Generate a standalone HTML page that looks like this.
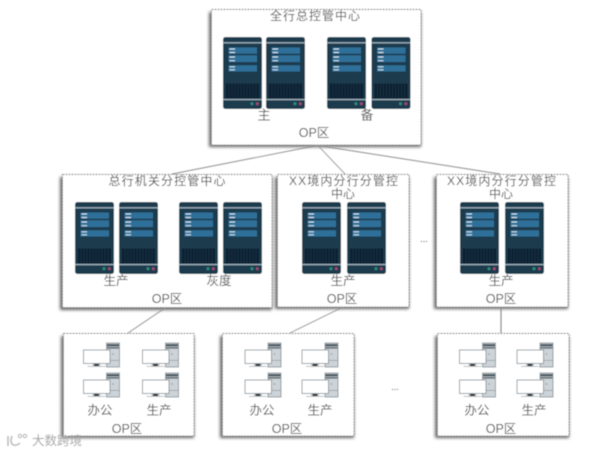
<!DOCTYPE html>
<html><head><meta charset="utf-8">
<style>
html,body{margin:0;padding:0;background:#fff}
svg{display:block}
text{font-family:"Liberation Sans","Noto Sans CJK SC",sans-serif;fill:#505050;font-size:12px;text-anchor:middle;dominant-baseline:central}
</style></head><body>
<svg width="605" height="454" viewBox="0 0 605 454" xmlns="http://www.w3.org/2000/svg">
<defs>
<filter id="sh" x="-10%" y="-10%" width="120%" height="120%"><feGaussianBlur stdDeviation="1.6"/></filter>
<filter id="soft" x="-5%" y="-5%" width="110%" height="110%"><feGaussianBlur stdDeviation="0.5"/></filter>
<g id="srv">
<rect width="39" height="72" rx="2.5" fill="#1d3a4e"/>
<rect y="5.2" width="39" height="1.2" fill="#a5b6bf"/>
<rect x="5.5" y="10.5" width="28.5" height="6.2" fill="#2f7099"/>
<rect x="5.5" y="18.3" width="28.5" height="6.8" fill="#2f7099"/>
<rect x="5.5" y="28.3" width="28.5" height="6.2" fill="#2f7099"/>
<rect x="6.5" y="11.5" width="5.5" height="1" fill="#dbe8ef"/><rect x="6.5" y="15" width="5.5" height="1" fill="#dbe8ef"/>
<rect x="6.5" y="19.5" width="5.5" height="1" fill="#dbe8ef"/><rect x="6.5" y="23.2" width="5.5" height="1" fill="#dbe8ef"/>
<rect x="6.5" y="29.3" width="5.5" height="1" fill="#dbe8ef"/><rect x="6.5" y="32.3" width="5.5" height="1" fill="#dbe8ef"/>
<rect x="2.7" y="46.5" width="33.5" height="15" fill="#0d2433"/>
<path d="M6 46.5v15M9 46.5v15M12 46.5v15M15 46.5v15M18 46.5v15M21 46.5v15M24 46.5v15M27 46.5v15M30 46.5v15M33 46.5v15" stroke="#1f3c4f" stroke-width=".6"/>
<rect y="62" width="39" height="1.2" fill="#a5b6bf"/>
<circle cx="29" cy="66.8" r="1.5" fill="#2f9080"/><circle cx="34.3" cy="66.8" r="1.5" fill="#a34a72"/>
</g>
<g id="pc">
<rect x="23" y="0" width="13" height="24" fill="#cdd4d9" stroke="#6f7b82" stroke-width=".7"/>
<rect x="23.5" y="1" width="12" height="2.4" fill="#4c5a62"/>
<rect x="23.5" y="4.2" width="12" height="1.4" fill="#4c5a62"/>
<rect x="23" y="17" width="13" height=".7" fill="#8d989e"/>
<circle cx="29.5" cy="11" r=".8" fill="#7f95a8"/>
<rect x="9" y="20" width="8" height="3" fill="#c4c9cc"/>
<rect x="10.5" y="21" width="5" height="2" fill="#26292b"/>
<rect x="4" y="23" width="18" height=".8" fill="#a6acb0"/>
<rect x="0" y="7" width="26.5" height="13.5" fill="#fff" stroke="#7d888e" stroke-width=".8"/>
</g>
</defs>

<g fill="#444" opacity=".8" filter="url(#sh)">
<rect x="209" y="12" width="212" height="135"/>
<rect x="60" y="177" width="212" height="133"/>
<rect x="275" y="177" width="134" height="132"/>
<rect x="434" y="177" width="134" height="132"/>
<rect x="61" y="336" width="133" height="102"/>
<rect x="220" y="336" width="134" height="102"/>
<rect x="435" y="336" width="134" height="102"/>
</g>

<g filter="url(#soft)">
<g fill="#fff" stroke="#8c8c8c" stroke-width=".9" stroke-dasharray="2 1">
<rect x="211.5" y="9.5" width="209.5" height="135.5"/>
<rect x="62.5" y="174.5" width="209.5" height="133"/>
<rect x="277.5" y="174.5" width="131.5" height="132.5"/>
<rect x="436.5" y="174.5" width="131.5" height="132.5"/>
<rect x="63.5" y="333.5" width="130.5" height="102.5"/>
<rect x="222.5" y="333.5" width="131.5" height="102.5"/>
<rect x="437.5" y="333.5" width="131.5" height="102.5"/>
</g>
<g fill="none" stroke="#8f8f8f" stroke-width=".9">
<path d="M317 145.5L172 174M318 145.5L345 174M318 145.5L500 174M165 308L128 333M342 307.5L290 333"/>
<path d="M501 307V333" stroke-width="1.2"/>
</g>

<use href="#srv" x="223" y="37"/><use href="#srv" x="266" y="37"/><use href="#srv" x="327" y="37"/><use href="#srv" x="371.5" y="37"/>
<use href="#srv" x="75" y="202"/><use href="#srv" x="119" y="202"/><use href="#srv" x="179" y="202"/><use href="#srv" x="223" y="202"/>
<use href="#srv" x="302" y="202"/><use href="#srv" x="347" y="202"/>
<use href="#srv" x="460" y="202"/><use href="#srv" x="505" y="202"/>

<use href="#pc" x="83.5" y="343"/><use href="#pc" x="142.5" y="343"/><use href="#pc" x="83.5" y="373"/><use href="#pc" x="142.5" y="373"/>
<use href="#pc" x="245" y="343"/><use href="#pc" x="302" y="343"/><use href="#pc" x="245" y="373"/><use href="#pc" x="302" y="373"/>
<use href="#pc" x="459.5" y="343"/><use href="#pc" x="517" y="343"/><use href="#pc" x="459.5" y="373"/><use href="#pc" x="517" y="373"/>

<text x="315" y="16" textLength="90" lengthAdjust="spacing">全行总控管中心</text>
<text x="264" y="115" style="font-size:13px">主</text>
<text x="367" y="115" style="font-size:13px">备</text>
<text x="314" y="133" style="font-size:12.5px">OP区</text>

<text x="167" y="181" textLength="117" lengthAdjust="spacing">总行机关分控管中心</text>
<text x="116" y="281" style="font-size:12.5px">生产</text>
<text x="219" y="281" style="font-size:12.5px">灰度</text>
<text x="167" y="299" style="font-size:12.5px">OP区</text>

<text x="343.5" y="181" textLength="109" lengthAdjust="spacing">XX境内分行分管控</text>
<text x="343" y="194">中心</text>
<text x="343" y="281" style="font-size:12.5px">生产</text>
<text x="342" y="299" style="font-size:12.5px">OP区</text>

<text x="501.5" y="181" textLength="109" lengthAdjust="spacing">XX境内分行分管控</text>
<text x="501" y="194">中心</text>
<text x="501" y="281" style="font-size:12.5px">生产</text>
<text x="501" y="299" style="font-size:12.5px">OP区</text>

<text x="424" y="239" style="font-size:9px">...</text>
<text x="395" y="387" style="font-size:9px">...</text>

<text x="100" y="410.5" style="font-size:12.5px">办公</text>
<text x="159" y="410.5" style="font-size:12.5px">生产</text>
<text x="127" y="429" style="font-size:12.5px">OP区</text>
<text x="262" y="410.5" style="font-size:12.5px">办公</text>
<text x="320" y="410.5" style="font-size:12.5px">生产</text>
<text x="287" y="429" style="font-size:12.5px">OP区</text>
<text x="477" y="410.5" style="font-size:12.5px">办公</text>
<text x="534" y="410.5" style="font-size:12.5px">生产</text>
<text x="501" y="429" style="font-size:12.5px">OP区</text>

<path d="M8 436v10M12 436q-2 5 0 8q3 3 8-1" fill="none" stroke="#b5b5b5" stroke-width="1.4"/>
<circle cx="20" cy="436" r="1.7" fill="none" stroke="#b5b5b5"/><circle cx="25" cy="436" r="1.7" fill="none" stroke="#b5b5b5"/>
<text x="57" y="441" textLength="50" lengthAdjust="spacing" style="fill:#aaa;font-size:12.5px">大数跨境</text>
</g>
</svg>
</body></html>
